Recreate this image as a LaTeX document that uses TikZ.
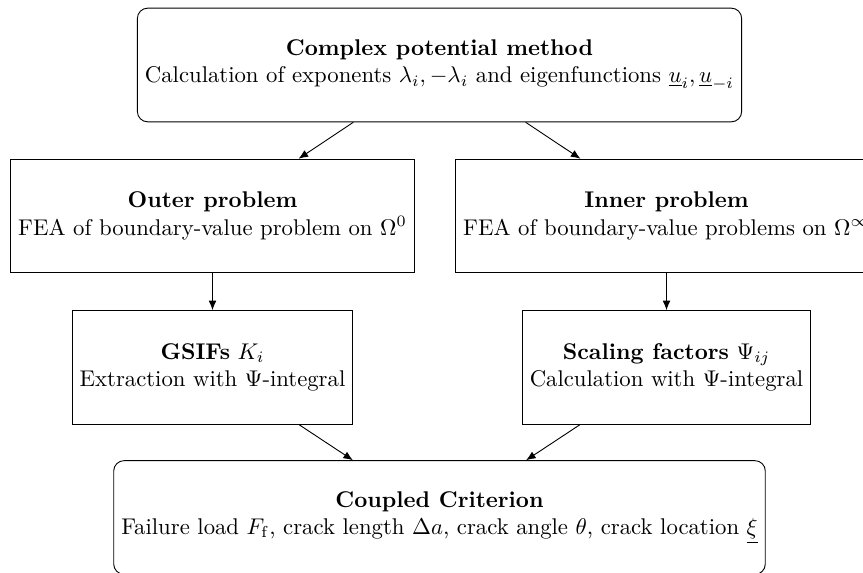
\documentclass[tikz,border=0pt]{standalone}
\usetikzlibrary{arrows.meta}

\tikzset{
  stage/.style={draw, thin, align=center, minimum height=50pt, inner sep=3.33pt},
  mainstage/.style={stage, rounded corners=4.5pt},
  flow/.style={thin, -{Latex[length=4.2pt, width=3.4pt]}}
}

\begin{document}
\begin{tikzpicture}[x=0.44pt, y=-0.44pt]
  % page frame (863 x 572 units); everything outside is cut off
  \useasboundingbox (0,0) rectangle (863,572);
  \clip (0,0) rectangle (863,572);

  \node[mainstage] (cpm) at (439.5,65)
    {\textbf{Complex potential method}\\
     Calculation of exponents $\lambda_i, -\lambda_i$ and eigenfunctions $\underline{u}_i, \underline{u}_{-i}$};

  \node[stage] (outer) at (212.5,216)
    {\textbf{Outer problem}\\
     FEA of boundary-value problem on $\Omega^0$};

  \node[stage] (inner) at (666.5,216)
    {\textbf{Inner problem}\\
     FEA of boundary-value problems on $\Omega^\infty$};

  \node[stage] (gsif) at (212.5,367.5)
    {\textbf{GSIFs} $K_i$\\
     Extraction with $\Psi$-integral};

  \node[stage] (scal) at (666.5,367.5)
    {\textbf{Scaling factors} $\Psi_{ij}$\\
     Calculation with $\Psi$-integral};

  \node[mainstage] (cc) at (439.5,517.5)
    {\textbf{Coupled Criterion}\\
     Failure load $F_\mathrm{f}$, crack length $\Delta a$, crack angle $\theta$, crack location $\underline{\xi}$};

  \draw[flow] (cpm) -- (outer);
  \draw[flow] (cpm) -- (inner);
  \draw[flow] (outer) -- (gsif);
  \draw[flow] (inner) -- (scal);
  \draw[flow] (gsif) -- (cc);
  \draw[flow] (scal) -- (cc);
\end{tikzpicture}
\end{document}
